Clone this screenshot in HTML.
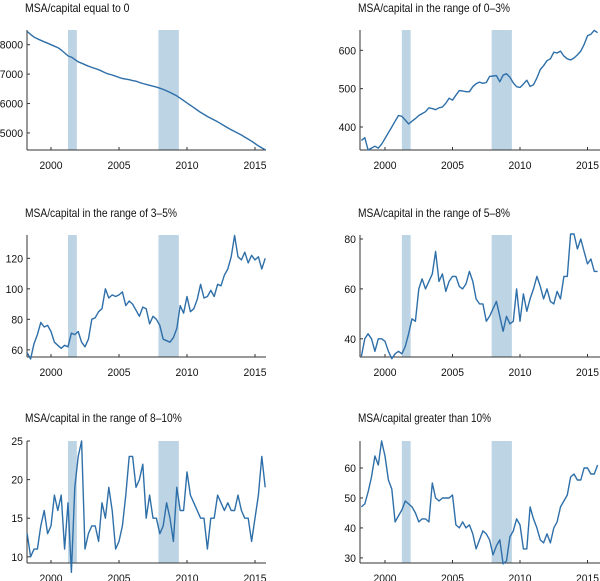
<!DOCTYPE html>
<html><head><meta charset="utf-8"><style>
html,body{margin:0;padding:0;background:#fff;}
svg{display:block;font-family:"Liberation Sans",sans-serif;}
</style></head><body>
<svg id="chart" width="600" height="581" viewBox="0 0 600 581" xmlns="http://www.w3.org/2000/svg"></svg>
<script>
const years = [2000, 2005, 2010, 2015];
const startYear = 1998.25;
const recessions = [[2001.25, 2001.9], [2007.9, 2009.4]];
const titles = ["MSA/capital equal to 0","MSA/capital in the range of 0–3%","MSA/capital in the range of 3–5%","MSA/capital in the range of 5–8%","MSA/capital in the range of 8–10%","MSA/capital greater than 10%"];
const yTicks0 = [5000, 6000, 7000, 8000];
const yTicks1 = [400, 500, 600];
const yTicks2 = [60, 80, 100, 120];
const yTicks3 = [40, 60, 80];
const yTicks4 = [10, 15, 20, 25];
const yTicks5 = [30, 40, 50, 60];
const series0 = [8450,8350,8260,8200, 8150,8100,8050,8000, 7950,7900,7820,7720, 7620,7580,7500,7420, 7370,7320,7270,7230, 7190,7150,7100,7040, 7000,6970,6930,6890, 6850,6830,6810,6780, 6760,6720,6680,6650, 6620,6590,6560,6520, 6480,6430,6380,6320, 6260,6180,6100,6020, 5940,5860,5780,5700, 5630,5560,5500,5440, 5380,5310,5240,5170, 5110,5050,4990,4930, 4860,4790,4720,4640, 4560,4490,4430];
const series1 = [365,372,340,345, 350,345,355,370, 385,400,415,430, 428,418,408,415, 422,430,435,440, 450,448,445,450, 452,462,475,470, 483,495,494,492, 492,505,513,517, 514,516,532,533, 534,518,535,539, 530,515,505,503, 512,522,506,510, 528,550,560,573, 578,595,593,598, 585,578,575,580, 588,598,615,638, 642,652,646];
const series2 = [58,54,64,70, 78,75,76,72, 65,63,61,63, 62,71,70,72, 65,62,67,80, 81,85,87,100, 94,96,95,96, 98,89,92,90, 86,82,88,87, 77,82,80,76, 67,66,65,68, 74,89,84,95, 85,87,93,103, 94,95,99,95, 103,102,109,113, 121,135,121,119, 124,117,122,119, 121,113,120];
const series3 = [33,40,42,40, 35,40,40,39, 35,32,34,35, 34,37,42,48, 47,60,64,60, 63,66,75,63, 66,59,63,65, 65,61,60,62, 67,63,56,54, 54,47,49,52, 55,49,43,49, 46,47,60,47, 58,51,56,60, 65,61,56,60, 55,54,59,56, 65,65,82,82, 76,80,75,70, 72,67,67];
const series4 = [13,10,11,11, 14,16,13,14, 18,16,18,11, 17,8,19,23, 25,11,13,14, 14,12,17,15, 19,16,11,12, 14,18,23,23, 19,20,22,15, 18,15,15,13, 14,17,15,12, 19,16,16,21, 18,17,16,15, 15,11,15,15, 18,17,16,17, 16,16,18,16, 15,15,12,15, 18,23,19];
const series5 = [47,48,52,57, 64,61,69,64, 56,53,42,44, 46,49,48,47, 45,42,43,43, 42,55,50,49, 50,50,50,51, 41,40,42,40, 41,38,33,36, 39,38,36,31, 34,36,28,29, 37,39,43,41, 33,33,47,43, 40,36,35,38, 35,40,42,47, 49,51,57,58, 56,56,60,60, 58,58,61];
const yDomains = [[4420,8500],[340,653],[55.3,135.3],[32.7,81.6],[9.2,25],[28.3,69]];
const allSeries=[series0,series1,series2,series3,series4,series5];
const allTicks=[yTicks0,yTicks1,yTicks2,yTicks3,yTicks4,yTicks5];
const NS="http://www.w3.org/2000/svg";
const svg=document.getElementById('chart');
function mk(tag,attrs,parent){const e=document.createElementNS(NS,tag);for(const k in attrs)e.setAttribute(k,attrs[k]);(parent||svg).appendChild(e);return e;}
const cols=[{x0:27,x1:266,y2000:51,pyr:13.6},{x0:360,x1:600,y2000:385,pyr:13.5}];
const rows=[{top:30,bot:150,title:8},{top:235,bot:357,title:213},{top:441,bot:563,title:418}];
const names=["equal-to-0","range-0-3","range-3-5","range-5-8","range-8-10","greater-than-10"];
for(let p=0;p<6;p++){
  const c=cols[p%2], r=rows[Math.floor(p/2)];
  const g=mk('g',{});
  
  
  const xs=t=>c.y2000+(t-2000)*c.pyr;
  const [d0,d1]=yDomains[p];
  const ys=v=>r.bot-(v-d0)/(d1-d0)*(r.bot-r.top);
  recessions.forEach((rc,i)=>{
    const a=Math.max(xs(rc[0]),c.x0);
    const rect=mk('rect',{x:a,y:r.top,width:xs(rc[1])-a,height:r.bot-r.top,fill:'#bdd4e4'},g);
    
    
  });
  const tt=mk('text',{x:c.x0-2,y:r.title+4,'font-size':12,fill:'#111',textLength:titles[p].length*4.75,lengthAdjust:'spacingAndGlyphs'},g);
  tt.textContent=titles[p];
  
  
  mk('line',{x1:c.x0,y1:r.top,x2:c.x0,y2:r.bot,stroke:'#333','stroke-width':1},g);
  mk('line',{x1:c.x0,y1:r.bot,x2:c.x1,y2:r.bot,stroke:'#333','stroke-width':1},g);
  allTicks[p].forEach(v=>{
    const y=ys(v);
    mk('line',{x1:c.x0,y1:y,x2:c.x0+3,y2:y,stroke:'#333'},g);
    const t=mk('text',{x:c.x0-4,y:y+4,'font-size':11,'text-anchor':'end',fill:'#111',textLength:String(v).length*5.8,lengthAdjust:'spacingAndGlyphs'},g);
    t.textContent=v;
    
    
  });
  years.forEach(yr=>{
    const x=xs(yr);
    mk('line',{x1:x,y1:r.bot,x2:x,y2:r.bot-3,stroke:'#333'},g);
    const t=mk('text',{x:x,y:r.bot+19,'font-size':11,'text-anchor':'middle',fill:'#111',textLength:23,lengthAdjust:'spacingAndGlyphs'},g);
    t.textContent=yr;
    
    
  });
  const pts=allSeries[p].map((v,i)=>xs(startYear+0.25*i).toFixed(1)+','+ys(v).toFixed(1)).join(' ');
  const pl=mk('polyline',{points:pts,fill:'none',stroke:'#2e6fa9','stroke-width':1.4,'stroke-linejoin':'round'},g);
  
  
}
</script>
</body></html>
